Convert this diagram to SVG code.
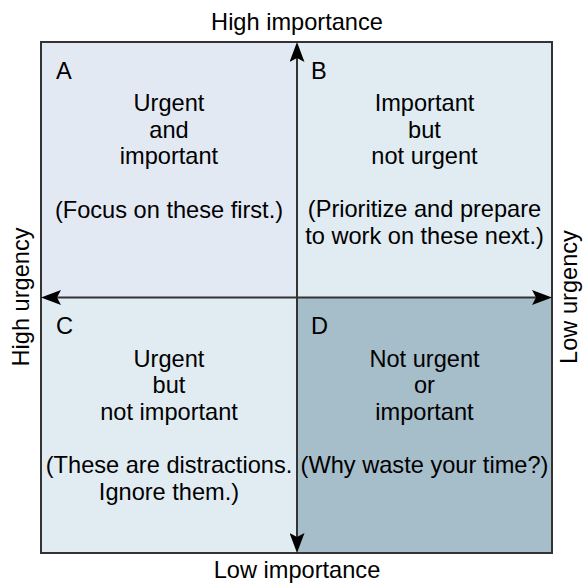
<svg xmlns="http://www.w3.org/2000/svg" width="583" height="586" viewBox="0 0 583 586">
  <style>
    text { font-family: "Liberation Sans", Arial, Helvetica, sans-serif; font-size: 23.6px; fill: #000; }
    .c { text-anchor: middle; }
    .ax { stroke: #333; stroke-width: 2; fill: none; }
  </style>
  <defs>
    <marker id="arr" markerUnits="userSpaceOnUse" viewBox="0 0 20 15" refX="4" refY="7.5" markerWidth="20" markerHeight="15" orient="auto-start-reverse">
      <path d="M0,0 L20,7.5 L0,15 L4,7.5 Z" fill="#000"/>
    </marker>
  </defs>

  <rect x="0" y="0" width="583" height="586" fill="#fff"/>

  <g id="quadrant-A">
    <rect x="41" y="42" width="256" height="255.5" fill="#e3e9f3"/>
    <text x="56" y="78.5">A</text>
    <text class="c" x="169" y="111">Urgent</text>
    <text class="c" x="169" y="137.5">and</text>
    <text class="c" x="169" y="164">important</text>
    <text class="c" x="169" y="217.5">(Focus on these first.)</text>
  </g>

  <g id="quadrant-B">
    <rect x="297" y="42" width="255" height="255.5" fill="#e0ecf2"/>
    <text x="311" y="78.5">B</text>
    <text class="c" x="424.5" y="111">Important</text>
    <text class="c" x="424.5" y="137.5">but</text>
    <text class="c" x="424.5" y="164">not urgent</text>
    <text class="c" x="424.5" y="217">(Prioritize and prepare</text>
    <text class="c" x="424.5" y="243.5">to work on these next.)</text>
  </g>

  <g id="quadrant-C">
    <rect x="41" y="297.5" width="256" height="255.5" fill="#e0ecf2"/>
    <text x="56" y="333.5">C</text>
    <text class="c" x="169" y="366.5">Urgent</text>
    <text class="c" x="169" y="393">but</text>
    <text class="c" x="169" y="419.5">not important</text>
    <text class="c" x="169" y="473">(These are distractions.</text>
    <text class="c" x="169" y="499.5">Ignore them.)</text>
  </g>

  <g id="quadrant-D">
    <rect x="297" y="297.5" width="255" height="255.5" fill="#a6bdca"/>
    <text x="311" y="333.5">D</text>
    <text class="c" x="424.5" y="366.5">Not urgent</text>
    <text class="c" x="424.5" y="393">or</text>
    <text class="c" x="424.5" y="419.5">important</text>
    <text class="c" x="424.5" y="473">(Why waste your time?)</text>
  </g>

  <rect x="41" y="42" width="511" height="511" fill="none" stroke="#333" stroke-width="2"/>

  <g id="connectors">
    <line class="ax" x1="297" y1="58" x2="297" y2="537" marker-start="url(#arr)" marker-end="url(#arr)"/>
    <line class="ax" x1="57" y1="297.5" x2="536" y2="297.5" marker-start="url(#arr)" marker-end="url(#arr)"/>
  </g>

  <g id="axis-labels">
    <text class="c" x="297" y="29.5">High importance</text>
    <text class="c" x="297" y="578">Low importance</text>
    <text class="c" transform="translate(29,297) rotate(-90)">High urgency</text>
    <text class="c" transform="translate(577,297) rotate(-90)">Low urgency</text>
  </g>
</svg>
